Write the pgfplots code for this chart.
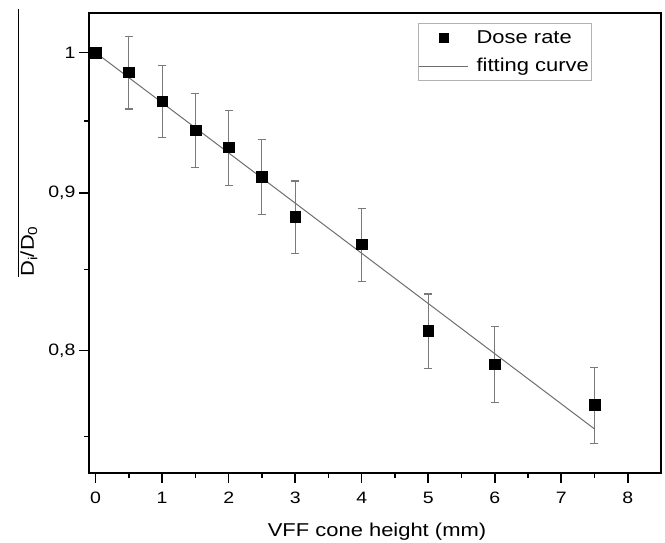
\documentclass[border=0pt]{standalone}
\usepackage{fontspec}
\setmainfont[FakeStretch=1.18]{Liberation Sans}
\usepackage{pgfplots}
\pgfplotsset{compat=1.18}
\definecolor{errgray}{HTML}{7A7A7A}
\definecolor{fitgray}{HTML}{6E6E6E}
\begin{document}
\begin{tikzpicture}
\begin{axis}[
  scale only axis, width=572pt, height=459.4pt,
  at={(0pt,0pt)}, anchor=south west,
  xmin=-0.1, xmax=8.5,
  ymode=log, ymin=0.730, ymax=1.0299,
  xtick={0,1,2,3,4,5,6,7,8},
  xticklabels={\mbox{0},\mbox{1},\mbox{2},\mbox{3},\mbox{4},\mbox{5},\mbox{6},\mbox{7},\mbox{8}},
  minor xtick={0.5,1.5,2.5,3.5,4.5,5.5,6.5,7.5},
  ytick={0.8,0.9,1},
  yticklabels={{\mbox{0,8}},{\mbox{0,9}},{\mbox{1}}},
  minor ytick={0.75,0.85,0.95},
  tick align=outside, xtick pos=left, ytick pos=left,
  major tick length=10pt, minor tick length=5pt,
  axis line style={line width=1.6pt},
  major tick style={line width=1.6pt, black},
  minor tick style={line width=1.4pt, black},
  ticklabel style={font=\fontsize{16.5}{19}\selectfont},
  xticklabel style={yshift=-6pt},
  legend style={at={(0.880,0.978)}, anchor=north east, draw=gray!60, line width=1pt,
    font=\fontsize{18.6}{22}\selectfont, inner xsep=0pt, inner ysep=0.7pt,
    nodes={inner xsep=3pt, inner ysep=5pt, text height=13.5pt, text depth=3.5pt},
    row sep=1pt, cells={anchor=west}},
  legend cell align=left,
]
\addplot[only marks, mark=square*, mark size=5.3pt, black, mark options={black, fill=black},
  legend image code/.code={\path[draw=none,fill=none] (0pt,-4pt) rectangle (49pt,4pt); \fill[black] (15pt,-4.5pt) rectangle (24pt,4.5pt);},
  error bars/.cd, y dir=both, y explicit,
  error bar style={errgray, line width=1.1pt},
  error mark options={errgray, line width=1.1pt, mark size=4pt, rotate=90}]
  table[x=x, y=y, y error=e] {
x    y       e
0    1.0000  0
0.5  0.9853  0.0267
1    0.9642  0.0260
1.5  0.9435  0.0260
2    0.9315  0.0260
2.5  0.9112  0.0255
3    0.8843  0.0240
4    0.8662  0.0237
5    0.8118  0.0227
6    0.7919  0.0225
7.5  0.7680  0.0219
};
\addlegendentry{Dose rate}
\addplot[fitgray, line width=1pt, no marks,
  legend image code/.code={\path[draw=none,fill=none] (0pt,-4pt) rectangle (49pt,4pt); \draw[fitgray, line width=1pt] (-6pt,0pt) -- (43pt,0pt);}]
  coordinates {(0,1.0) (7.5,0.7543)};
\addlegendentry{fitting curve\hspace{8pt}}
\end{axis}
\node[rotate=90, anchor=west, inner sep=0pt, font=\fontsize{18.6}{22}\selectfont] at (-60pt,195.7pt) {D\textsubscript{i}/D\textsubscript{0}};
\draw[line width=1pt] (-70.7pt,463.7pt) -- (-70.7pt,195.7pt);
\node[anchor=base, font=\fontsize{18.6}{22}\selectfont] at (288pt,-63.9pt) {VFF cone height (mm)};
\pgfresetboundingbox
\useasboundingbox (-89pt,-70.3pt) rectangle (576pt,472.7pt);
\end{tikzpicture}
\end{document}
